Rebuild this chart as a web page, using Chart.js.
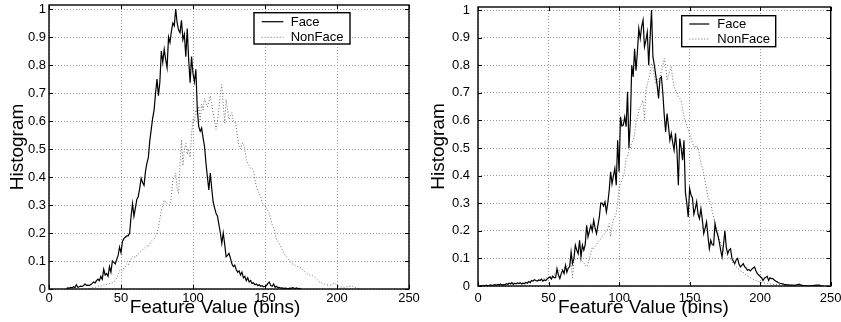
<!DOCTYPE html>
<html><head><meta charset="utf-8">
<script src="https://cdn.jsdelivr.net/npm/chart.js@4.4.1/dist/chart.umd.min.js"></script>
<style>
html,body{margin:0;padding:0;background:#fff;}
#wrap{position:relative;width:841px;height:322px;overflow:hidden;background:#fff}
canvas{position:absolute;top:0}
</style>
</head><body>
<div id="wrap">
<canvas id="left" width="420" height="322" style="left:0"></canvas>
<canvas id="right" width="421" height="322" style="left:420px"></canvas>
</div>
<script>
// ---------------- data ----------------
const seriesNames = ['Face', 'NonFace'];
const xTicks = [0, 50, 100, 150, 200, 250];
const yTicks = [0, 0.1, 0.2, 0.3, 0.4, 0.5, 0.6, 0.7, 0.8, 0.9, 1];
const xTitle = 'Feature Value (bins)';
const yTitle = 'Histogram';

// left panel, first bin index of each array
const leftFaceStart = 12;
const leftFace = [
 .002,.004,.003,.006,.004,.008,.005,.015,.006,.008,
 .010,.009,.012,.018,.013,.014,.012,.016,.020,.025,
 .022,.030,.035,.030,.045,.035,.070,.050,.055,.045,
 .080,.060,.100,.095,.090,.105,.120,.150,.130,.170,
 .180,.185,.190,.190,.200,.260,.305,.260,.290,.320,
 .330,.360,.395,.380,.370,.420,.450,.470,.530,.570,
 .610,.640,.700,.750,.690,.740,.850,.810,.856,.820,
 .790,.900,.880,.920,.950,.940,1.00,.950,.925,.915,
 .960,.890,.910,.830,.930,.820,.737,.830,.770,.740,
 .785,.640,.580,.563,.575,.540,.510,.450,.400,.354,
 .414,.360,.310,.290,.270,.260,.230,.200,.163,.200,
 .160,.115,.120,.127,.110,.090,.080,.085,.070,.060,
 .065,.050,.060,.040,.045,.030,.040,.025,.030,.020,
 .022,.015,.018,.012,.015,.010,.012,.008,.010,.012,
 .020,.025,.012,.010,.018,.006,.010,.005,.006,.003,
 .004,.002,.003,.002,.001,.003,.002,.005,.003,.002,
 .004,.001,.002,0
];
const leftNonFaceStart = 28;
const leftNonFace = [
 .002,.003,.004,.005,.006,.008,.010,.012,.010,.013,
 .015,.014,.016,.018,.020,.018,.022,.025,.030,.040,
 .050,.065,.070,.065,.075,.080,.090,.085,.100,.105,
 .115,.110,.120,.118,.125,.130,.135,.140,.145,.150,
 .155,.150,.160,.170,.175,.180,.190,.200,.220,.250,
 .280,.300,.318,.310,.305,.300,.300,.330,.390,.400,
 .414,.360,.342,.450,.533,.440,.500,.520,.480,.500,
 .470,.550,.605,.600,.640,.620,.653,.600,.660,.640,
 .680,.665,.650,.670,.690,.660,.630,.600,.570,.600,
 .640,.700,.730,.660,.593,.677,.640,.605,.620,.630,
 .600,.600,.580,.540,.510,.500,.520,.520,.500,.460,
 .450,.440,.430,.430,.426,.390,.366,.350,.342,.330,
 .310,.300,.294,.290,.280,.270,.250,.230,.220,.200,
 .175,.170,.160,.150,.140,.130,.120,.115,.110,.100,
 .095,.090,.088,.085,.082,.080,.079,.075,.070,.065,
 .060,.055,.052,.050,.050,.049,.045,.040,.035,.030,
 .025,.022,.020,.018,.016,.015,.014,.013,.015,.018,
 .020,.018,.014,.010,.008,.007,.007,.006,.007,.008,
 .009,.010,.010,.010,.008,.005,.003,.002,0
];

// right panel
const rightFaceStart = 0;
const rightFace = [
 0,0,.001,0,.002,.001,.003,.001,.002,.004,
 .002,.003,.005,.003,.006,.004,.007,.003,.005,.004,
 .008,.006,.010,.008,.012,.006,.010,.008,.011,.009,
 .012,.007,.010,.008,.013,.010,.016,.012,.020,.018,
 .023,.020,.018,.022,.020,.025,.018,.022,.020,.025,
 .030,.033,.025,.035,.030,.030,.063,.040,.027,.045,
 .057,.045,.075,.050,.065,.070,.123,.081,.100,.148,
 .130,.117,.166,.105,.148,.130,.150,.220,.178,.200,
 .220,.200,.238,.210,.190,.220,.250,.300,.300,.290,
 .305,.268,.300,.347,.414,.370,.400,.426,.365,.528,
 .414,.613,.580,.583,.613,.577,.704,.500,.600,.800,
 .758,.860,.780,.850,.933,.897,.940,.964,.867,.890,
 .920,.800,.900,1.00,.830,.800,.764,.728,.680,.752,
 .758,.700,.620,.558,.625,.580,.528,.553,.520,.492,
 .553,.492,.365,.534,.500,.456,.528,.340,.300,.250,
 .353,.330,.320,.260,.280,.305,.260,.244,.280,.240,
 .190,.210,.232,.180,.135,.166,.150,.148,.226,.200,
 .184,.160,.130,.105,.150,.200,.140,.117,.130,.135,
 .100,.090,.081,.095,.100,.080,.069,.075,.081,.070,
 .065,.057,.060,.055,.060,.065,.069,.055,.045,.040,
 .035,.030,.020,.028,.032,.035,.020,.030,.027,.027,
 .022,.018,.015,.012,.010,.009,.008,.006,.005,.004,
 .004,.003,.003,.003,.002,.003,.004,.006,.006,.003,
 .002,.001,.001,.001,0,0,.001,.001,.002,.002,
 .003,.003,.003,.001,0,0
];
const rightNonFaceStart = 15;
const rightNonFace = [
 .002,.003,.002,.004,.003,.005,.004,.006,.005,.008,
 .006,.009,.008,.010,.009,.012,.010,.013,.012,.015,
 .014,.016,.015,.018,.017,.020,.019,.022,.021,.025,
 .024,.028,.027,.030,.028,.030,.032,.035,.038,.042,
 .045,.050,.052,.057,.060,.062,.065,.069,.072,.075,
 .080,.085,.030,.090,.095,.100,.098,.100,.095,.090,
 .085,.075,.069,.080,.100,.120,.140,.135,.145,.150,
 .160,.166,.170,.180,.185,.190,.200,.210,.226,.180,
 .220,.240,.250,.262,.300,.360,.370,.385,.395,.420,
 .462,.470,.492,.500,.520,.528,.550,.600,.610,.637,
 .650,.660,.673,.600,.710,.730,.750,.770,.807,.794,
 .760,.734,.750,.740,.758,.780,.794,.825,.800,.746,
 .760,.780,.794,.750,.722,.710,.700,.686,.680,.673,
 .640,.613,.600,.580,.565,.550,.534,.520,.504,.510,
 .500,.504,.470,.444,.430,.407,.380,.350,.323,.310,
 .300,.270,.250,.226,.210,.190,.170,.154,.140,.130,
 .120,.117,.110,.100,.095,.090,.080,.075,.069,.065,
 .060,.055,.052,.050,.045,.040,.036,.033,.030,.027,
 .025,.022,.020,.018,.016,.015,.013,.012,.011,.010,
 .009,.008,.008,.007,.006,.006,.005,.005,.005,.005,
 .004,.004,.003,.003,.003,.002,.002,.002,.001,.001,0
];

// ---------------- rendering ----------------
const FONT = "'Liberation Sans', Arial, Helvetica, sans-serif";
const toPts = (start, arr) => arr.map((v, i) => ({x: start + i, y: v}));

const framePlugin = {
  id: 'matlabFrame',
  afterDatasetsDraw(chart, args, o) {
    const {ctx, chartArea: a, scales: {x, y}} = chart;
    ctx.save();
    ctx.strokeStyle = '#000';
    ctx.lineWidth = 1;
    const tl = 4;
    ctx.beginPath();
    x.ticks.forEach(t => {
      const px = Math.round(x.getPixelForValue(t.value)) + 0.5;
      ctx.moveTo(px, a.bottom); ctx.lineTo(px, a.bottom - tl);
      ctx.moveTo(px, a.top); ctx.lineTo(px, a.top + tl);
    });
    y.ticks.forEach(t => {
      const py = Math.round(y.getPixelForValue(t.value)) + 0.5;
      ctx.moveTo(a.left, py); ctx.lineTo(a.left + tl, py);
      ctx.moveTo(a.right, py); ctx.lineTo(a.right - tl, py);
    });
    ctx.stroke();
    ctx.lineWidth = 1.4;
    ctx.strokeRect(a.left, a.top, a.right - a.left, a.bottom - a.top);

    // legend box
    const L = o.legend;
    const bx = a.left + L.x, by = a.top + L.y;
    ctx.fillStyle = '#fff';
    ctx.fillRect(bx, by, L.w, L.h);
    ctx.lineWidth = 1.4;
    ctx.strokeStyle = '#000';
    ctx.strokeRect(bx, by, L.w, L.h);
    ctx.font = '13px ' + FONT;
    ctx.textBaseline = 'middle';
    ctx.textAlign = 'left';
    chart.data.datasets.forEach((ds, i) => {
      const ry = by + L.rows[i];
      ctx.save();
      ctx.strokeStyle = ds.borderColor;
      ctx.lineWidth = ds.borderWidth;
      ctx.setLineDash(ds.borderDash || []);
      ctx.beginPath();
      ctx.moveTo(bx + L.s0, ry); ctx.lineTo(bx + L.s1, ry);
      ctx.stroke();
      ctx.restore();
      ctx.fillStyle = '#000';
      ctx.fillText(ds.label, bx + L.tx, ry + 0.5);
    });

    // x-axis title
    ctx.font = o.titleFont + 'px ' + FONT;
    ctx.textAlign = 'center';
    ctx.textBaseline = 'alphabetic';
    ctx.fillStyle = '#000';
    ctx.fillText(xTitle, (a.left + a.right) / 2 + o.titleDx, o.titleBase);
    ctx.restore();
  }
};

function makeChart(id, faceStart, face, nfStart, nf, geo) {
  return new Chart(document.getElementById(id), {
    type: 'scatter',
    data: {
      datasets: [
        {label: seriesNames[0], data: toPts(faceStart, face), showLine: true,
         borderColor: '#000', borderWidth: 1.2, pointRadius: 0, tension: 0},
        {label: seriesNames[1], data: toPts(nfStart, nf), showLine: true,
         borderColor: '#6a6a6a', borderWidth: 1, borderDash: [1, 2], pointRadius: 0, tension: 0}
      ]
    },
    options: {
      responsive: false,
      animation: false,
      events: [],
      layout: {padding: {left: 0, top: geo.top, right: geo.right, bottom: 0}},
      plugins: {
        legend: {display: false},
        tooltip: {enabled: false},
        matlabFrame: {legend: geo.legend, titleDx: geo.titleDx, titleBase: 313, titleFont: 19}
      },
      scales: {
        x: {
          type: 'linear', min: 0, max: 250,
          afterBuildTicks: s => { s.ticks = xTicks.map(v => ({value: v})); },
          afterFit: s => { s.height = geo.xh; s.paddingLeft = 0; s.paddingRight = 0; },
          ticks: {color: '#000', font: {family: FONT, size: 13}, padding: geo.xpad,
                  maxRotation: 0, autoSkip: false, callback: v => String(v)},
          grid: {color: '#9a9a9a', lineWidth: 1, drawTicks: false},
          border: {display: false, dash: [1, 2]}
        },
        y: {
          type: 'linear', min: 0, max: geo.ymax,
          afterBuildTicks: s => { s.ticks = yTicks.map(v => ({value: v})); },
          afterFit: s => { s.width = geo.yw; s.paddingTop = 0; s.paddingBottom = 0; },
          ticks: {color: '#000', font: {family: FONT, size: 13}, padding: geo.ypad,
                  autoSkip: false, callback: v => String(v)},
          grid: {color: '#9a9a9a', lineWidth: 1, drawTicks: false},
          border: {display: false, dash: [1, 2]},
          title: {display: true, text: yTitle, color: '#000',
                  font: {family: FONT, size: 19}, padding: {top: geo.ytp, bottom: 0}}
        }
      }
    },
    plugins: [framePlugin]
  });
}

makeChart('left', leftFaceStart, leftFace, leftNonFaceStart, leftNonFace, {
  top: 5, right: 11, xh: 33, yw: 49, ymax: 1.0143, xpad: 2, ypad: 3, ytp: 6,
  titleDx: -14,
  legend: {x: 205, y: 7.7, w: 96, h: 31.3, s0: 7.7, s1: 29.3, tx: 36.7, rows: [9, 24.6]}
});
makeChart('right', rightFaceStart, rightFace, rightNonFaceStart, rightNonFace, {
  top: 7, right: 10.3, xh: 36, yw: 58, ymax: 1.011, xpad: 4.5, ypad: 8, ytp: 7.3,
  titleDx: -11,
  legend: {x: 203.7, y: 8.7, w: 94, h: 31, s0: 7.6, s1: 27.6, tx: 35.6, rows: [8.3, 23.3]}
});
</script>
</body></html>
